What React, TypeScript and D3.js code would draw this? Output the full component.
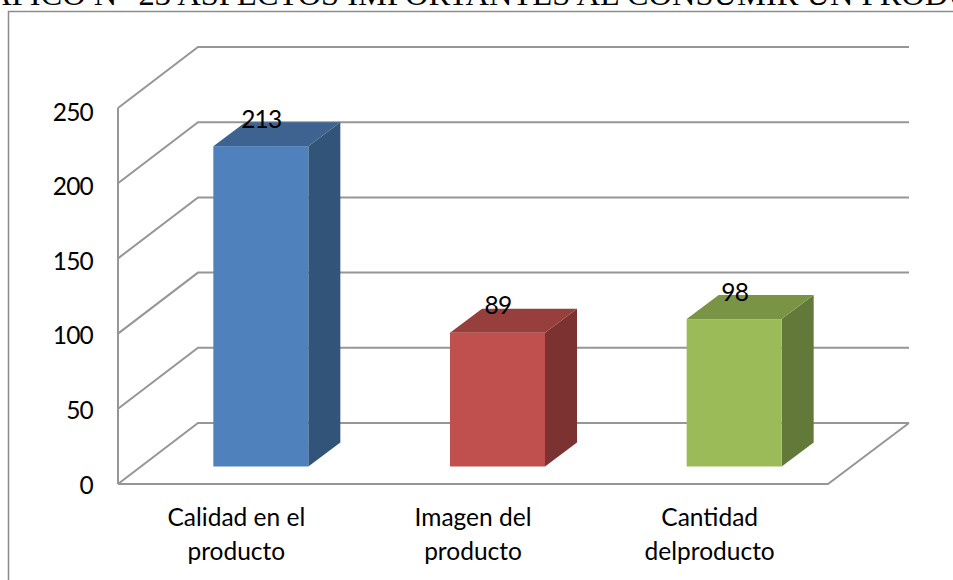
import React from "react";
import * as d3 from "d3";

const categories = [["Calidad en el", "producto"], ["Imagen del", "producto"], ["Cantidad", "delproducto"]];
const values = [213, 89, 98];
const ticks = [0, 50, 100, 150, 200, 250];
const frontFill = ["#4f81bd", "#c0504d", "#9bbb59"];
const topFill = ["#3e6391", "#973f3c", "#7a9446"];
const sideFill = ["#325479", "#7b3230", "#637939"];
const titleText = "GRÁFICO N° 23 ASPECTOS IMPORTANTES AL CONSUMIR UN PRODUCTO";

const W = 953, H = 580;
const grid = "#969696";
const y = d3.scaleLinear().domain([0, 250]).range([484, 108]);
const yLabel = d3.scaleLinear().domain([0, 250]).range([484, 111]);
const x = d3.scaleBand().domain(["0", "1", "2"]).range([118, 828]);
const depth = { dx: 80, dy: -61 };
const barDepth = { dx: 32, dy: -24 };
const barLift = 17.5;
const barShift = 25;
const barW = 95;

export default function App() {
  const line = d3.line();
  const poly = (p: [number, number][]) => line(p) + "Z";
  const x0 = 118, x1 = 828;
  return (
    <svg width={W} height={H} style={{ position: "absolute", left: 0, top: 0, background: "#fff" }}>
      <text x={-57} y={4.5} fontFamily="Liberation Serif" fontSize={32.5} fill="#000">{titleText}</text>
      <path d={`M8.5 580V11.5H953`} fill="none" stroke="#8c8c8c" strokeWidth={1.5} />
      {ticks.map(t => (
        <path key={t} d={line([[x0, y(t)], [x0 + depth.dx, y(t) + depth.dy], [x1 + depth.dx + 1, y(t) + depth.dy]])!} fill="none" stroke={grid} strokeWidth={2} />
      ))}
      <path d={line([[x0, y(0)], [x0, y(250)]])!} fill="none" stroke={grid} strokeWidth={2} />
      <path d={line([[x0, y(0)], [x1, y(0)], [x1 + depth.dx + 1, y(0) + depth.dy]])!} fill="none" stroke={grid} strokeWidth={2} />
      {values.map((v, i) => {
        const cx = x(String(i))! + x.bandwidth() / 2 + barShift;
        const l = cx - barW / 2 - 0.5, r = l + barW;
        const b = y(0) - barLift, t = y(v) - barLift;
        const { dx, dy } = barDepth;
        return (
          <g key={i}>
            <path d={poly([[r, b], [r + dx, b + dy], [r + dx, t + dy], [r, t]])} fill={sideFill[i]} />
            <path d={poly([[l, t], [r, t], [r + dx, t + dy], [l + dx, t + dy]])} fill={topFill[i]} />
            <rect x={l} y={t} width={barW} height={b - t} fill={frontFill[i]} />
          </g>
        );
      })}
      <g fontFamily="Lato" fontSize={24.5} fill="#000">
        {ticks.map(t => (
          <text key={t} x={93} y={yLabel(t)} textAnchor="end" dominantBaseline="central" letterSpacing={-0.8}>{t}</text>
        ))}
        {values.map((v, i) => {
          const cx = x(String(i))! + x.bandwidth() / 2 + barShift;
          return <text key={i} x={cx} y={y(v) - barLift - 28} textAnchor="middle" dominantBaseline="central" letterSpacing={-0.8}>{v}</text>;
        })}
        {categories.map((c, i) => (
          <text key={i} textAnchor="middle">
            {c.map((s, j) => (
              <tspan key={j} x={x(String(i))! + x.bandwidth() / 2} y={526 + j * 34}>{s}</tspan>
            ))}
          </text>
        ))}
      </g>
    </svg>
  );
}
